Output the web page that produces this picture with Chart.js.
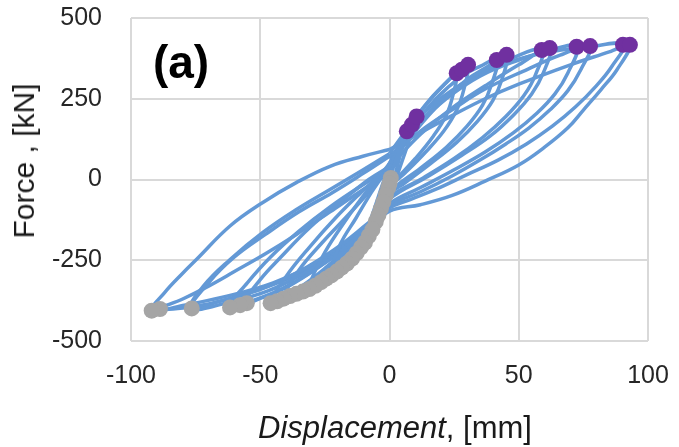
<!DOCTYPE html>
<html><head><meta charset="utf-8">
<script src="https://cdn.jsdelivr.net/npm/chart.js@4/dist/chart.umd.min.js"></script>
<style>
html,body{margin:0;padding:0;background:#fff;}
#wrap{position:relative;width:679px;height:447px;overflow:hidden;font-family:"Liberation Sans",Arial,sans-serif;color:#1a1a1a;}
#c{position:absolute;left:0;top:0;}
.lab{position:absolute;white-space:nowrap;transform:translate(-50%,-50%);}
#yt{left:24px;top:161px;font-size:30px;transform:translate(-50%,-50%) rotate(-90deg);}
#xt{left:395px;top:428px;font-size:31px;}
#pa{left:181px;top:62px;font-size:46px;font-weight:bold;color:#000;}
</style></head>
<body>
<div id="wrap">
<canvas id="c" width="679" height="447"></canvas>
<div class="lab" id="yt">Force , [kN]</div>
<div class="lab" id="xt"><i>Displacement</i>, [mm]</div>
<div class="lab" id="pa">(a)</div>
</div>
<script>
// ---- axis ticks ----
const xTicks = [-100, -50, 0, 50, 100];
const yTicks = [-500, -250, 0, 250, 500];

// ---- hysteresis loops (displacement mm, force kN) ----
const loop1Disp  = [0, 2, 4.5, 6.7, 5, 3, 1, 0, -1.5, -3, -5, -4, -2.5, -1, 0];
const loop1Force = [0, 50, 105, 149, 100, 40, -20, -50, -85, -115, -140, -90, -40, 0, 30];

const loop2Disp  = [0, 3, 6, 8.7, 10.5, 8, 5, 2, 0, -2.5, -5, -8, -10, -7.5, -5, -2.5, 0];
const loop2Force = [30, 90, 140, 170, 195, 130, 60, -10, -55, -100, -145, -180, -200, -130, -70, -10, 40];

const loop3Disp  = [0, 5, 11, 17, 22, 26, 24.5, 22, 17, 10, 3, 0, -4, -9, -15, -20, -23, -19, -13, -7, -2, 0];
const loop3Force = [45, 120, 200, 260, 300, 329, 260, 200, 135, 65, 5, -20, -100, -170, -230, -270, -293, -200, -120, -40, 20, 50];

const loop4Disp  = [0, 6, 13, 20, 26, 30.4, 28.8, 26, 21, 14, 6, 0, -5, -11, -18, -25, -31, -26, -19, -11, -4, 0];
const loop4Force = [50, 140, 220, 285, 330, 355, 280, 215, 150, 85, 20, -25, -110, -180, -250, -300, -334, -240, -150, -60, 10, 40];

const loop5Disp  = [0, 9, 18, 28, 35, 41.5, 39.5, 36, 30, 22, 12, 0, -6, -14, -22, -30, -37, -41, -35, -26, -16, -7, 0];
const loop5Force = [40, 160, 250, 320, 350, 370, 295, 230, 165, 100, 35, -40, -120, -200, -265, -320, -350, -365, -280, -195, -110, -30, 45];

const loop6Disp  = [0, 10, 20, 30, 38, 45.3, 43.5, 40, 34, 26, 16, 6, 0, -7, -16, -25, -34, -41, -46, -40, -31, -21, -11, -3, 0];
const loop6Force = [45, 150, 240, 310, 350, 386, 310, 245, 180, 115, 50, -10, -45, -130, -210, -275, -330, -360, -381, -300, -210, -120, -40, 20, 50];

const loop7Disp  = [0, 10, 22, 35, 47, 58.9, 56.5, 52, 45, 36, 25, 13, 0, -7, -17, -28, -39, -49, -55.9, -50, -42, -31, -19, -8, 0];
const loop7Force = [50, 160, 260, 330, 375, 401, 325, 260, 195, 130, 65, 5, -55, -130, -210, -275, -330, -365, -381, -310, -240, -150, -70, 0, 40];

const loop8Disp  = [0, 12, 24, 37, 50, 62, 59.5, 55, 48, 39, 28, 15, 0, -8, -18, -30, -42, -53, -61.7, -55, -46, -35, -23, -11, 0];
const loop8Force = [40, 140, 220, 290, 355, 407, 330, 265, 200, 135, 75, 10, -60, -140, -215, -285, -340, -375, -392, -320, -240, -160, -85, -20, 35];

const loop9Disp  = [0, 10, 22, 35, 50, 62, 72.4, 69, 64, 57, 48, 37, 25, 12, 0, -9, -20, -33, -47, -62, -76.5, -70, -60, -48, -35, -22, -10, 0];
const loop9Force = [65, 160, 250, 320, 370, 400, 411, 330, 265, 205, 145, 85, 30, -25, -75, -150, -225, -290, -345, -380, -399, -320, -240, -170, -100, -40, 20, 72];

const loop10Disp  = [0, 12, 25, 37, 53.6, 66, 77.6, 74, 69, 62, 54, 45, 35, 24, 12, 0, -9, -21, -35, -50, -65, -77, -72, -62, -49, -36, -23, -10, 0];
const loop10Force = [72, 150, 220, 280, 342, 385, 413, 340, 275, 215, 160, 110, 60, 10, -38, -80, -140, -215, -285, -340, -375, -399, -330, -250, -164, -93, -31, 31, 80];

const loop11Disp  = [0, 8, 18, 30, 45, 60, 77, 90.3, 86, 80, 72, 63, 53, 42, 30, 18, 8, 0, -10, -22, -36, -52, -70, -89, -80, -70, -60, -48, -36, -23, -10, 0];
const loop11Force = [80, 165, 240, 305, 360, 392, 410, 417, 350, 290, 225, 165, 110, 60, 15, -30, -62, -88, -155, -225, -295, -345, -385, -401, -370, -330, -285, -230, -170, -100, -30, 20];

const loop12Disp  = [0, 12, 24, 37, 50, 70, 85, 93, 88, 82, 75, 69, 60, 50, 37, 24, 12, 0, -10, -25, -45, -65, -80, -92, -87, -80, -74.6, -61.7, -49, -35.9, -23, -10.3, 0];
const loop12Force = [93, 145, 197, 250, 295, 355, 395, 417, 340, 280, 215, 160, 100, 45, -5, -50, -78, -98, -165, -245, -320, -365, -390, -406, -350, -290, -247, -144, -71, -9, 41, 72, 93];

// ---- peak markers ----
const posPeakDisp  = [6.7, 8.7, 10.5, 26, 28, 30.4, 41.5, 45.3, 58.9, 62, 72.4, 77.6, 90.3, 93];
const posPeakForce = [149, 170, 195, 329, 340, 355, 370, 386, 401, 407, 411, 413, 417, 417];

const negPeakDisp  = [0.5, 0, -0.5, -1.4, -2.4, -3.3, -4.3, -5.3, -6.6, -8, -9.5, -11, -12.7, -14.5, -16.5, -18.5, -20.4, -22.5, -24.5, -26.5, -28.7, -31, -33.5, -36, -38.5, -41, -43.5, -46, -55.2, -57.8, -61.7, -76.5, -88.8, -92];
const negPeakForce = [5, -12, -26, -48, -70, -90, -111, -130, -155, -175, -195, -210, -228, -245, -260, -273, -285, -297, -307, -318, -329, -339, -347, -354, -361, -369, -377, -383, -383, -389, -396, -399, -401, -406];

const loops = [
  [loop1Disp, loop1Force], [loop2Disp, loop2Force], [loop3Disp, loop3Force],
  [loop4Disp, loop4Force], [loop5Disp, loop5Force], [loop6Disp, loop6Force],
  [loop7Disp, loop7Force], [loop8Disp, loop8Force], [loop9Disp, loop9Force],
  [loop10Disp, loop10Force], [loop11Disp, loop11Force], [loop12Disp, loop12Force]
];
const pts = (xs, ys) => xs.map((x, i) => ({x: x, y: ys[i]}));

const LINE = '#6399D6';
const datasets = [
  {data: pts(posPeakDisp, posPeakForce), showLine: false, pointRadius: 8, pointBackgroundColor: '#7030A0', pointBorderWidth: 0, order: 0},
  {data: pts(negPeakDisp, negPeakForce), showLine: false, pointRadius: 8, pointBackgroundColor: '#A5A5A5', pointBorderWidth: 0, order: 0}
];
loops.forEach(l => datasets.push({
  data: pts(l[0], l[1]), showLine: true, borderColor: LINE, borderWidth: 3.5,
  pointRadius: 0, tension: 0.4, fill: false, order: 1
}));

const tickFont = {family: '"Liberation Sans", Arial, sans-serif', size: 25};
new Chart(document.getElementById('c'), {
  type: 'scatter',
  data: {datasets: datasets},
  options: {
    responsive: false, animation: false,
    layout: {padding: {top: 18, right: 31, left: 0, bottom: 0}},
    plugins: {legend: {display: false}, tooltip: {enabled: false}},
    scales: {
      x: {
        type: 'linear', min: xTicks[0], max: xTicks[xTicks.length - 1],
        afterBuildTicks: s => { s.ticks = xTicks.map(v => ({value: v})); },
        afterFit: s => { s.height = 106; s.paddingLeft = 0; s.paddingRight = 0; },
        ticks: {font: tickFont, color: '#262626', padding: 20, maxRotation: 0},
        grid: {color: '#D9D9D9', lineWidth: 2, drawTicks: false},
        border: {display: false}
      },
      y: {
        type: 'linear', min: yTicks[0], max: yTicks[yTicks.length - 1],
        afterBuildTicks: s => { s.ticks = yTicks.map(v => ({value: v})); },
        afterFit: s => { s.width = 131; s.paddingTop = 0; s.paddingBottom = 0; },
        ticks: {font: tickFont, color: '#262626', padding: 29},
        grid: {color: '#D9D9D9', lineWidth: 2, drawTicks: false},
        border: {display: false}
      }
    }
  }
});
</script>
</body></html>
